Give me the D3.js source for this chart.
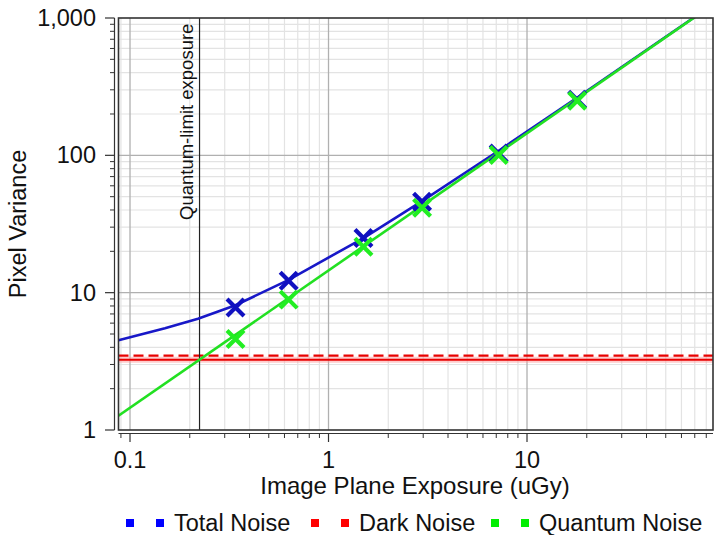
<!DOCTYPE html>
<html>
<head>
<meta charset="utf-8">
<script src="https://cdn.jsdelivr.net/npm/d3@7"></script>
<style>
    body { margin: 0; background: #fff; }
    text { font-family: Arial, "Liberation Sans", sans-serif; fill: #111; }
</style>
</head>
<body>
<div id="chart"></div>
<script>

// data
const exposures = [0.34, 0.63, 1.5, 2.96, 7.2, 17.9]
const totalMarkers = [7.8, 12.2, 25, 46, 103, 254]
const quantumMarkers = [4.6, 8.9, 21.6, 41.5, 100.5, 250]

const totalCurveX = [0.0875, 0.15, 0.22, 0.34, 0.63, 1.5, 3.0, 7.2, 18, 70]
const totalCurveY = [4.5, 5.5, 6.45, 8.1, 12.4, 25, 47, 108, 265, 1018]
const quantumCurveX = [0.0875, 70]
const quantumCurveY = [1.27, 1015]

const darkNoise = [3.25]
const darkNoiseDashed = [3.48]
const quantumLimit = [0.224]

const xTicks = [0.1, 1, 10]
const yTicks = [1, 10, 100, 1000]

const series = [
    {name: 'Total Noise', color: '#0000ff'},
    {name: 'Dark Noise', color: '#ff0000'},
    {name: 'Quantum Noise', color: '#00ee00'}
]

const width = 715
const height = 535
const plot = {left: 118.5, right: 713, top: 18, bottom: 430}

const x = d3
    .scaleLog()
    .domain([0.0875, 86.5])
    .range([plot.left, plot.right])
const y = d3
    .scaleLog()
    .domain([1, 1000])
    .range([plot.bottom, plot.top])

const minorX = d3.range(-2, 2).flatMap(e => d3.range(2, 10).map(m => m * Math.pow(10, e)))
    .filter(v => v > x.domain()[0] && v < x.domain()[1])
const minorY = d3.range(0, 3).flatMap(e => d3.range(2, 10).map(m => m * Math.pow(10, e)))

const svg = d3
    .select('#chart')
    .append('svg')
    .attr('width', width)
    .attr('height', height)

svg.append('defs')
    .append('clipPath')
    .attr('id', 'clip')
    .append('rect')
    .attr('x', plot.left)
    .attr('y', plot.top)
    .attr('width', plot.right - plot.left)
    .attr('height', plot.bottom - plot.top)

// grid
const grid = svg.append('g')
grid.selectAll('.mx')
    .data(minorX)
    .enter()
    .append('line')
    .attr('x1', d => x(d)).attr('x2', d => x(d))
    .attr('y1', plot.top).attr('y2', plot.bottom)
    .attr('stroke', '#e3e3e3').attr('stroke-width', 1.2)
grid.selectAll('.my')
    .data(minorY)
    .enter()
    .append('line')
    .attr('y1', d => y(d)).attr('y2', d => y(d))
    .attr('x1', plot.left).attr('x2', plot.right)
    .attr('stroke', '#e3e3e3').attr('stroke-width', 1.2)
grid.selectAll('.Mx')
    .data(xTicks)
    .enter()
    .append('line')
    .attr('x1', d => x(d)).attr('x2', d => x(d))
    .attr('y1', plot.top).attr('y2', plot.bottom)
    .attr('stroke', '#b0b0b0').attr('stroke-width', 1.3)
grid.selectAll('.My')
    .data(yTicks.slice(1, 3))
    .enter()
    .append('line')
    .attr('y1', d => y(d)).attr('y2', d => y(d))
    .attr('x1', plot.left).attr('x2', plot.right)
    .attr('stroke', '#b0b0b0').attr('stroke-width', 1.3)

const g = svg.append('g').attr('clip-path', 'url(#clip)')

// dark noise
g.append('line')
    .attr('x1', plot.left).attr('x2', plot.right)
    .attr('y1', y(darkNoise[0])).attr('y2', y(darkNoise[0]))
    .attr('stroke', '#ff9a9a').attr('stroke-width', 6).attr('opacity', 0.5)
g.append('line')
    .attr('x1', plot.left).attr('x2', plot.right)
    .attr('y1', y(darkNoise[0])).attr('y2', y(darkNoise[0]))
    .attr('stroke', '#e80000').attr('stroke-width', 2)
g.append('line')
    .attr('x1', plot.left).attr('x2', plot.right)
    .attr('y1', y(darkNoiseDashed[0])).attr('y2', y(darkNoiseDashed[0]))
    .attr('stroke', '#e80000').attr('stroke-width', 2.2)
    .attr('stroke-dasharray', '10,5')

// quantum-limit exposure
g.append('line')
    .attr('x1', x(quantumLimit[0])).attr('x2', x(quantumLimit[0]))
    .attr('y1', plot.top).attr('y2', plot.bottom)
    .attr('stroke', '#222').attr('stroke-width', 1.2)
svg.append('text')
    .attr('transform', 'translate(' + (x(quantumLimit[0]) - 7) + ',' + 220 + ') rotate(-90)')
    .attr('font-size', 18.5)
    .text('Quantum-limit exposure')

const line = d3.line()
    .x(d => x(d[0]))
    .y(d => y(d[1]))

g.append('path')
    .attr('d', line(d3.zip(totalCurveX, totalCurveY)))
    .attr('fill', 'none')
    .attr('stroke', '#1818c8')
    .attr('stroke-width', 2.6)
g.append('path')
    .attr('d', line(d3.zip(quantumCurveX, quantumCurveY)))
    .attr('fill', 'none')
    .attr('stroke', '#22e022')
    .attr('stroke-width', 2.6)

const cross = (sel, xs, ys, color) => {
    const s = 8.5
    const pts = d3.zip(xs, ys)
    sel.selectAll(null)
        .data(pts)
        .enter()
        .append('path')
        .attr('d', d => {
            const cx = x(d[0]), cy = y(d[1])
            return 'M' + (cx - s) + ',' + (cy - s) + 'L' + (cx + s) + ',' + (cy + s) +
                'M' + (cx - s) + ',' + (cy + s) + 'L' + (cx + s) + ',' + (cy - s)
        })
        .attr('stroke', color)
        .attr('stroke-width', 4.2)
}
cross(g.append('g'), exposures, totalMarkers, '#1010c0')
cross(g.append('g'), exposures, quantumMarkers, '#22ee22')

// frame
svg.append('rect')
    .attr('x', plot.left)
    .attr('y', plot.top)
    .attr('width', plot.right - plot.left)
    .attr('height', plot.bottom - plot.top)
    .attr('fill', 'none')
    .attr('stroke', '#333')
    .attr('stroke-width', 1.6)

// axes
const yAxis = svg.append('g')
yAxis.append('line')
    .attr('x1', 114.5).attr('x2', 114.5)
    .attr('y1', plot.top).attr('y2', plot.bottom)
    .attr('stroke', '#333').attr('stroke-width', 1.2)
yAxis.selectAll('.t')
    .data(minorY)
    .enter()
    .append('line')
    .attr('x1', 110).attr('x2', 114.5)
    .attr('y1', d => y(d)).attr('y2', d => y(d))
    .attr('stroke', '#333')
yAxis.selectAll('.T')
    .data(yTicks)
    .enter()
    .append('line')
    .attr('x1', 105).attr('x2', 114.5)
    .attr('y1', d => y(d)).attr('y2', d => y(d))
    .attr('stroke', '#333').attr('stroke-width', 1.2)
yAxis.selectAll('text')
    .data(yTicks)
    .enter()
    .append('text')
    .attr('x', 96)
    .attr('y', d => y(d) + 8)
    .attr('text-anchor', 'end')
    .attr('font-size', 23.5)
    .text(d => d3.format(',')(d))

const xAxis = svg.append('g')
xAxis.append('line')
    .attr('x1', plot.left).attr('x2', plot.right)
    .attr('y1', 433.5).attr('y2', 433.5)
    .attr('stroke', '#333').attr('stroke-width', 1.2)
xAxis.selectAll('.t')
    .data(minorX)
    .enter()
    .append('line')
    .attr('x1', d => x(d)).attr('x2', d => x(d))
    .attr('y1', 433.5).attr('y2', 438)
    .attr('stroke', '#333')
xAxis.selectAll('.T')
    .data(xTicks)
    .enter()
    .append('line')
    .attr('x1', d => x(d)).attr('x2', d => x(d))
    .attr('y1', 433.5).attr('y2', 442)
    .attr('stroke', '#333').attr('stroke-width', 1.2)
xAxis.selectAll('text')
    .data(xTicks)
    .enter()
    .append('text')
    .attr('x', d => x(d))
    .attr('y', 468)
    .attr('text-anchor', 'middle')
    .attr('font-size', 23.5)
    .text(d => d3.format('')(d))

svg.append('text')
    .attr('x', 415)
    .attr('y', 494)
    .attr('text-anchor', 'middle')
    .attr('font-size', 24)
    .text('Image Plane Exposure (uGy)')
svg.append('text')
    .attr('transform', 'translate(26,224) rotate(-90)')
    .attr('text-anchor', 'middle')
    .attr('font-size', 23.5)
    .text('Pixel Variance')

// legend
const legendX = [126, 311, 491]
const legend = svg.append('g')
series.forEach((s, i) => {
    const item = legend.append('g').attr('transform', 'translate(' + legendX[i] + ',523)')
    item.append('rect').attr('x', 0).attr('y', -4).attr('width', 8).attr('height', 8).attr('fill', s.color)
    item.append('rect').attr('x', 30).attr('y', -4).attr('width', 8).attr('height', 8).attr('fill', s.color)
    item.append('text').attr('x', 48).attr('y', 8).attr('font-size', 23.5).text(s.name)
})

</script>
</body>
</html>
